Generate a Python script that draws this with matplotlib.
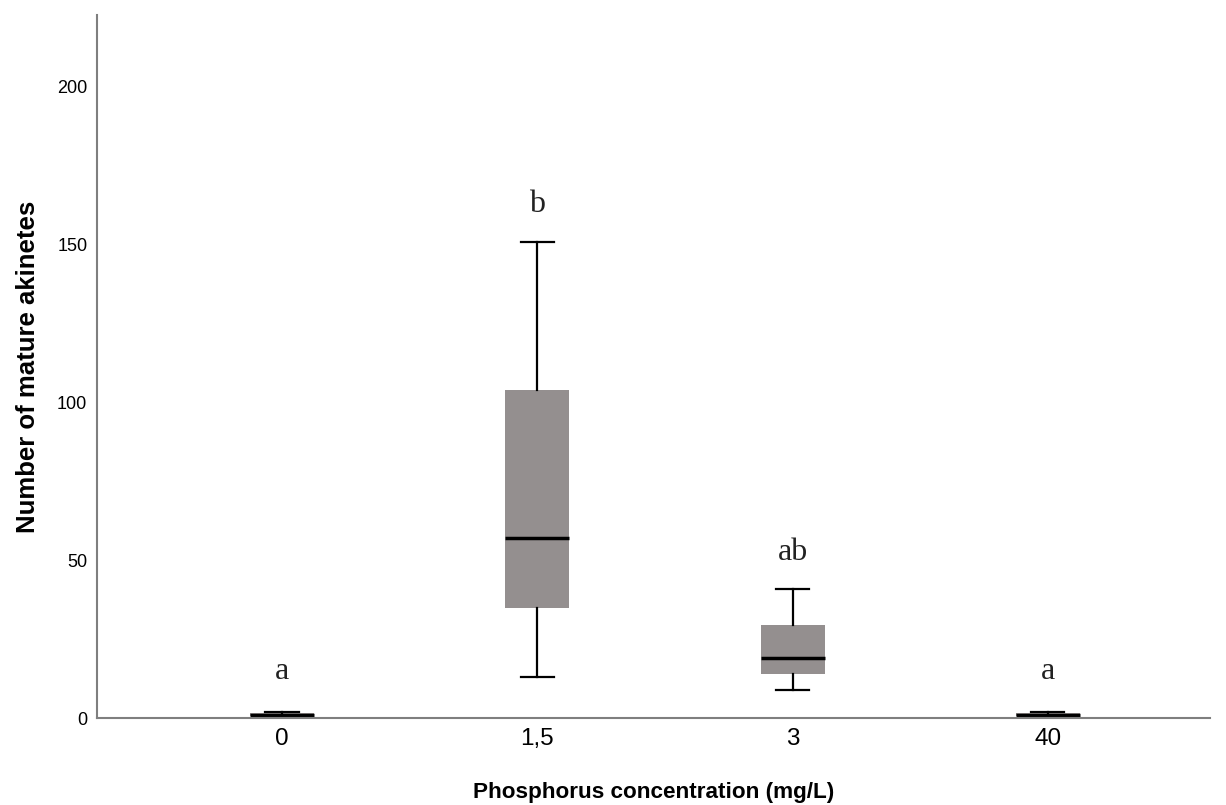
import matplotlib
matplotlib.use("Agg")
import matplotlib.pyplot as plt

categories = ["0", "1,5", "3", "40"]
q1 = [0.5, 35, 14, 0.5]
median = [1, 57, 19, 1]
q3 = [1.5, 104, 29.5, 1.5]
whislo = [0, 13, 9, 0]
whishi = [2, 151, 41, 2]
letters = ["a", "b", "ab", "a"]
letter_y = [14.6, 162.6, 52.6, 14.6]
yticks = [0, 50, 100, 150, 200]

fig = plt.figure(figsize=(12.26, 8.05), dpi=100)
ax = fig.add_axes([97/1226, 1 - 718/805, (1210-97)/1226, (718-15)/805])

stats = []
for i, c in enumerate(categories):
    stats.append(dict(label=c, q1=q1[i], med=median[i], q3=q3[i],
                      whislo=whislo[i], whishi=whishi[i], fliers=[]))

positions = list(range(len(categories)))
ax.bxp(stats, positions=positions, widths=0.25, patch_artist=True,
       showfliers=False,
       boxprops=dict(facecolor="#948f8f", edgecolor="none", linewidth=0),
       medianprops=dict(color="black", linewidth=2.5),
       whiskerprops=dict(color="black", linewidth=1.6),
       capprops=dict(color="black", linewidth=1.6),
       capwidths=0.13)

for i, (l, y) in enumerate(zip(letters, letter_y)):
    ax.text(positions[i], y, l, ha="center", va="center",
            fontsize=23, family="Liberation Serif", color="#222222")

ax.set_xlim(-0.725, 3.635)
ax.set_ylim(0, 222.8)
ax.set_yticks(yticks)
ax.set_yticklabels([str(t) for t in yticks], fontsize=13, family="Liberation Sans")
ax.set_xticks(positions)
ax.set_xticklabels(categories, fontsize=17.5, family="Liberation Sans")
ax.tick_params(axis="x", length=0, pad=7)
ax.tick_params(axis="y", length=0, pad=7)

for s in ["top", "right"]:
    ax.spines[s].set_visible(False)
for s in ["left", "bottom"]:
    ax.spines[s].set_color("#7f7f7f")
    ax.spines[s].set_linewidth(1.5)

ax.set_xlabel("Phosphorus concentration (mg/L)", fontsize=16.2, fontweight="bold",
              family="Liberation Sans", labelpad=23)
ax.set_ylabel("Number of mature akinetes", fontsize=18.5, fontweight="bold",
              family="Liberation Sans", labelpad=12.5)

fig.savefig("out.png", dpi=100)
